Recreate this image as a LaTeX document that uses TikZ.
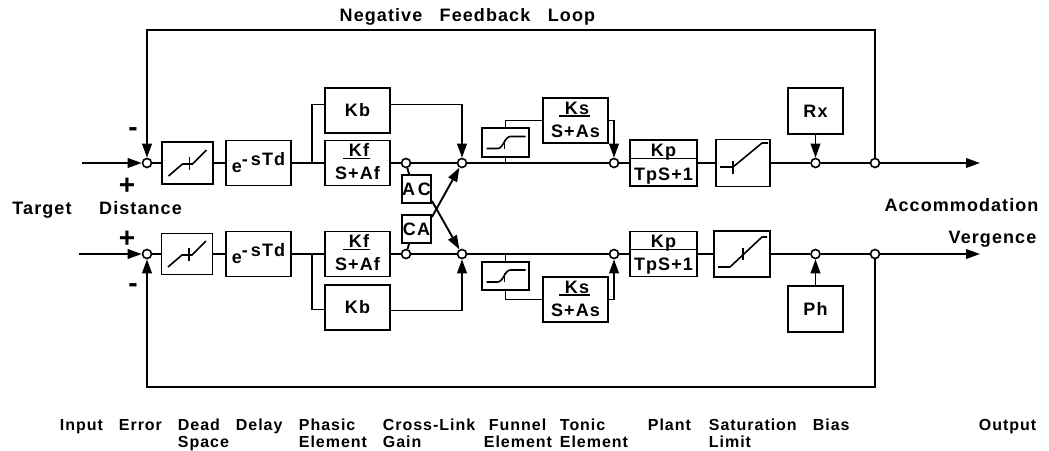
\documentclass[tikz,border=0pt]{standalone}
\usepackage{fontspec}
\setmainfont{Liberation Sans}
\newfontfamily\lblfont{Liberation Sans}[LetterSpace=6]
\usetikzlibrary{arrows.meta}
\newcommand\blk[6]{\node[blk,minimum width=#4*0.5pt,minimum height=#5*0.5pt] (#1) at (#2,#3) {#6};}
\newcommand\fracblk[7]{%
  \blk{#1}{#2}{#3}{#4}{#5}{}
  \node[txt,anchor=base] (#1n) at (#2,#3-#5*0.1-2) {#6};
  \node[txt,anchor=base] (#1d) at (#2,#3+#5*0.5-6) {#7};}
\begin{document}
\begin{tikzpicture}[x=0.5pt,y=-0.5pt,line width=0.95pt,
  >={Triangle[length=7pt,width=4.8pt]},
  blk/.style={draw,fill=white,inner sep=0pt,font=\lblfont\bfseries\fontsize{9}{11}\selectfont},
  txt/.style={inner sep=0pt,font=\lblfont\bfseries\fontsize{9}{11}\selectfont},
  blab/.style={inner sep=0pt,anchor=base west,font=\lblfont\bfseries\fontsize{8}{9}\selectfont},
  sgn/.style={inner sep=0pt,font=\bfseries\fontsize{14}{14}\selectfont},
  jn/.style={circle,draw,fill=white,minimum size=4.5pt,inner sep=0pt,line width=0.8pt},
  gfx/.style={line width=0.8pt},
  bar/.style={line width=0.7pt}]
\useasboundingbox (0,0) rectangle (1049,450);

% ---------- blocks, top row ----------
\blk{dzT}{187.5}{163}{51}{42}{}
\blk{dlT}{258.5}{163}{65}{45}{e\raisebox{3.5pt}{-\,sTd}}
\blk{kbT}{357.5}{110.5}{65}{45}{Kb}
\fracblk{kfT}{357.5}{163}{65}{45}{\,Kf}{S+Af}
\blk{acT}{416.5}{189}{29}{28}{A\,C}
\blk{fnT}{505.5}{142.5}{47}{29}{}
\fracblk{ksT}{575.5}{120.5}{65}{45}{\,Ks}{S+As}
\fracblk{kpT}{663.5}{163}{67}{46}{Kp}{TpS+1}
\blk{satT}{743}{163}{54}{47}{}
\blk{rx}{815.5}{111}{55}{46}{Rx}

% ---------- blocks, bottom row ----------
\blk{dzB}{187}{254}{51}{41}{}
\blk{dlB}{258.5}{254}{65}{45}{e\raisebox{3.5pt}{-\,sTd}}
\fracblk{kfB}{357.5}{254}{65}{45}{\,Kf}{S+Af}
\blk{kbB}{357.5}{307.5}{65}{45}{Kb}
\blk{caB}{416.5}{229}{29}{28}{CA}
\blk{fnB}{505.5}{276}{47}{28}{}
\fracblk{ksB}{575.5}{299.5}{65}{45}{\,Ks}{S+As}
\fracblk{kpB}{663.5}{254}{67}{45}{Kp}{TpS+1}
\blk{satB}{742}{254}{56}{46}{}
\blk{ph}{815.5}{309}{55}{46}{Ph}

% ---------- junctions ----------
\node[jn] (sT) at (147,163) {};
\node[jn] (ocT) at (406,163) {};
\node[jn] (sumT) at (462,163) {};
\node[jn] (sum2T) at (614,163) {};
\node[jn] (biasT) at (815.5,163) {};
\node[jn] (oT) at (875,163) {};
\node[jn] (sB) at (147,254) {};
\node[jn] (ocB) at (406,254) {};
\node[jn] (sumB) at (462,254) {};
\node[jn] (sum2B) at (614,254) {};
\node[jn] (biasB) at (815.5,254) {};
\node[jn] (oB) at (875,254) {};

\coordinate (inT) at (82,163);
\coordinate (inB) at (79,254);
\coordinate (outT) at (980,163);
\coordinate (outB) at (980,254);
\coordinate (fbT) at (875,30);
\coordinate (fbB) at (875,387);
\coordinate (brT) at (312,163);
\coordinate (brB) at (312,254);
\coordinate (fT) at (505.5,163);
\coordinate (fB) at (505.5,254);

% ---------- fraction bars ----------
\foreach \n in {kfT,kfB,ksT,ksB}{
  \draw[bar] ([shift={(-2,2)}]\n n.base west) -- ([shift={(0,2)}]\n n.base east);}
\foreach \n in {kpT,kpB}{
  \path (\n n.base) ++(0,2) coordinate (\n bar);
  \draw[bar] (\n.west |- \n bar) -- (\n.east |- \n bar);}

% ---------- connectors, top ----------
\draw[->] (inT) -- (sT);
\draw (sT) -- (dzT) (dzT) -- (dlT) (dlT) -- (kfT) (kfT) -- (ocT) (ocT) -- (sumT)
      (sumT) -- (sum2T) (sum2T) -- (kpT) (kpT) -- (satT) (satT) -- (biasT) (biasT) -- (oT);
\draw[->] (oT) -- (outT);
\draw (brT) |- ([shift={(0,-6)}]kbT.west);
\draw[->] ([shift={(0,-6)}]kbT.east) -| (sumT);
\draw (ocT) -- ([shift={(8,0)}]acT.north west);
\draw[->] ([shift={(0,-3)}]acT.south east) -- (sumB);
\draw[->] ([shift={(0,3)}]caB.north east) -- (sumT);
\draw (fT) -- (fnT);
\draw (fnT.north) |- (ksT);
\draw[->] (ksT) -| (sum2T);
\draw[->] (rx) -- (biasT);
\draw[->] (oT) -- (fbT) -| (sT);

% ---------- connectors, bottom ----------
\draw[->] (inB) -- (sB);
\draw (sB) -- (dzB) (dzB) -- (dlB) (dlB) -- (kfB) (kfB) -- (ocB) (ocB) -- (sumB)
      (sumB) -- (sum2B) (sum2B) -- (kpB) (kpB) -- (satB) (satB) -- (biasB) (biasB) -- (oB);
\draw[->] (oB) -- (outB);
\draw (brB) |- ([shift={(0,2)}]kbB.west);
\draw[->] ([shift={(0,3)}]kbB.east) -| (sumB);
\draw (ocB) -- ([shift={(8,0)}]caB.south west);
\draw (fB) -- (fnB);
\draw (fnB.south) |- (ksB);
\draw[->] (ksB) -| (sum2B);
\draw[->] (ph) -- (biasB);
\draw[->] (oB) -- (fbB) -| (sB);

% ---------- block graphics ----------
\begin{scope}[shift={(187.5,163)},gfx]
  \draw (-19,13) -- (-5,1) -- (5,1) -- (19,-13);
  \draw (2,-6) -- (2,7);
\end{scope}
\begin{scope}[shift={(187,254)},gfx]
  \draw (-19,13) -- (-5,1) -- (5,1) -- (19,-13);
  \draw (2,-6) -- (2,7);
\end{scope}
\begin{scope}[shift={(505.5,142.5)},gfx]
  \draw (-19,6) -- (-8,6) .. controls (-2,6) and (-1,-6) .. (5,-6) -- (20,-6);
  \draw (-1,-3) -- (-1,6);
\end{scope}
\begin{scope}[shift={(505.5,276)},gfx]
  \draw (-19,6) -- (-8,6) .. controls (-2,6) and (-1,-6) .. (5,-6) -- (20,-6);
  \draw (-1,-3) -- (-1,6);
\end{scope}
\begin{scope}[shift={(743,163)},gfx]
  \draw (-23,4) -- (-10,4) -- (19,-20) -- (25,-20);
  \draw (-10,-2) -- (-10,11);
\end{scope}
\begin{scope}[shift={(742,254)},gfx]
  \draw (-24,13) -- (-12,13) -- (20,-17) -- (25,-17);
  \draw (1,-6) -- (1,6);
\end{scope}

% ---------- signs and labels ----------
\node[sgn] (mT) at (133,132) {-};
\node[sgn] (pT) at (127,186) {+};
\node[sgn] (pB) at (127,239) {+};
\node[sgn] (mB) at (133,288) {-};
\node[txt,anchor=base] (lTarget) at (42,214) {Target};
\node[txt,anchor=base] (lDist) at (140.5,214) {Distance};
\node[txt,anchor=base] (lAcc) at (961.5,211) {Accommodation};
\node[txt,anchor=base] (lVerg) at (992.5,243) {Vergence};
\node[txt,anchor=base] (lNeg) at (381,21) {Negative};
\node[txt,anchor=base] (lFb) at (485,21) {Feedback};
\node[txt,anchor=base] (lLoop) at (571.5,21) {Loop};

\node[blab] (b1) at (59,430) {Input};
\node[blab] (b2) at (118,430) {Error};
\node[blab] (b3) at (177,430) {Dead};
\node[blab] (b3b) at (177,447) {Space};
\node[blab] (b4) at (235,430) {Delay};
\node[blab] (b5) at (298,430) {Phasic};
\node[blab] (b5b) at (298,447) {Element};
\node[blab] (b6) at (382,430) {Cross-Link};
\node[blab] (b6b) at (382,447) {Gain};
\node[blab] (b7) at (488,430) {Funnel};
\node[blab] (b7b) at (483,447) {Element};
\node[blab] (b8) at (559,430) {Tonic};
\node[blab] (b8b) at (559,447) {Element};
\node[blab] (b9) at (647,430) {Plant};
\node[blab] (b10) at (708,430) {Saturation};
\node[blab] (b10b) at (708,447) {Limit};
\node[blab] (b11) at (812,430) {Bias};
\node[blab] (b12) at (978,430) {Output};
\end{tikzpicture}
\end{document}
